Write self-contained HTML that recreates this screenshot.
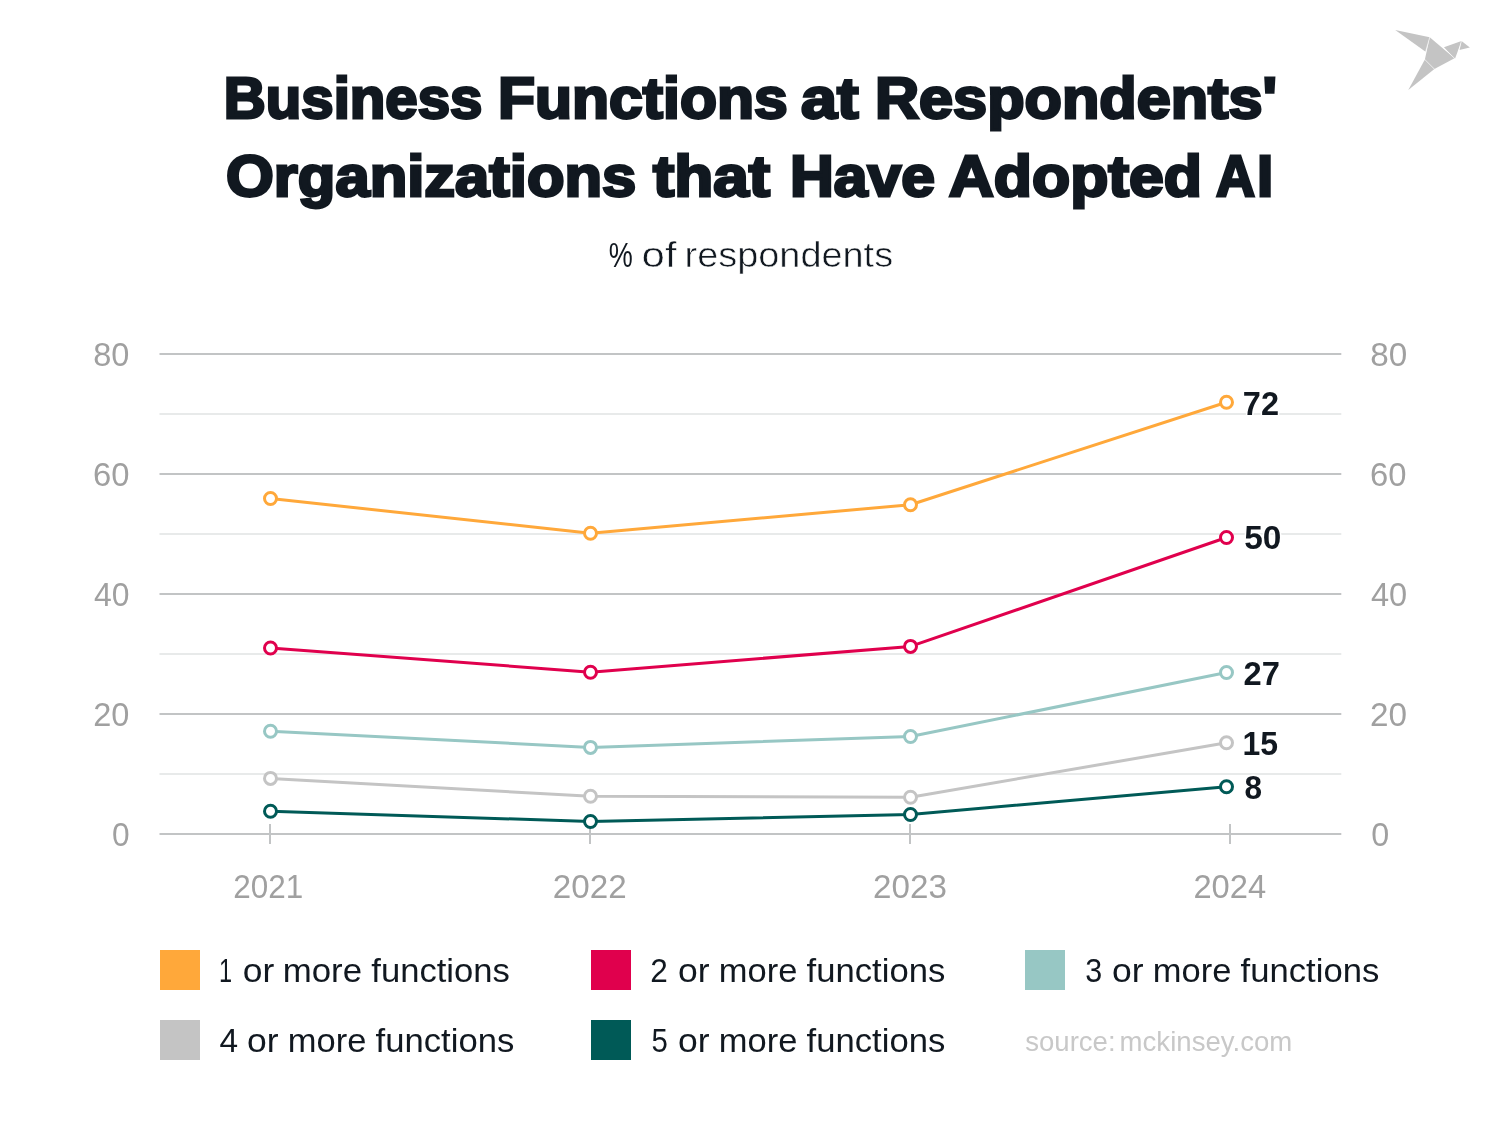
<!DOCTYPE html>
<html>
<head>
<meta charset="utf-8">
<title>Business Functions at Respondents' Organizations that Have Adopted AI</title>
<style>
html,body{margin:0;padding:0;background:#fff;}
body{width:1500px;height:1130px;position:relative;overflow:hidden;font-family:"Liberation Sans",sans-serif;}
svg{position:absolute;left:0;top:0;display:block;will-change:transform;}
text{font-family:"Liberation Sans",sans-serif;}
.title{font-weight:bold;font-size:57.7px;fill:#111820;stroke:#111820;stroke-width:2.8px;stroke-linejoin:miter;}
.sub{font-size:35px;fill:#111820;stroke:#ffffff;stroke-width:0.55px;}
.subp{font-size:35px;fill:#111820;}
.ax{font-size:33px;fill:#a0a0a0;}
.dl{font-size:33px;font-weight:bold;fill:#111820;stroke:#ffffff;stroke-width:3px;stroke-linejoin:round;paint-order:stroke fill;}
.lg{font-size:33px;fill:#111820;}
.src{font-size:28.5px;fill:#c8c8c8;}

</style>
</head>
<body>
<svg width="1500" height="1130" viewBox="0 0 1500 1130">
<rect x="0" y="0" width="1500" height="1130" fill="#ffffff"/>

<!-- logo -->
<g fill="#c4c4c4">
<polygon points="1395.2,30.1 1429.74,37.21 1425.6,51.8"/>
<polygon points="1429.74,37.21 1454.5,58.3 1434.41,68.96 1424.87,59.41"/>
<polygon points="1424.87,59.41 1434.41,68.96 1408.3,89.9"/>
<polygon points="1443.96,47.34 1461.5,41.0 1455.1,58.4 1453.6,57.6"/>
<polygon points="1461.5,41.0 1469.86,47.53 1459.4,49.95"/>
</g>
<g stroke="#ffffff" stroke-width="0.55" fill="none" stroke-linecap="butt">
<line x1="1429.9" y1="36.6" x2="1425.3" y2="52.6"/>
<line x1="1424.2" y1="58.9" x2="1434.6" y2="69.3"/>
<line x1="1443.6" y1="47.7" x2="1454.6" y2="58.4"/>
<line x1="1461.45" y1="40.6" x2="1459.0" y2="50.4"/>
</g>

<!-- grid -->
<g stroke="#e8eaea" stroke-width="2">
<line x1="159.5" x2="1341.3" y1="414" y2="414"/>
<line x1="159.5" x2="1341.3" y1="534" y2="534"/>
<line x1="159.5" x2="1341.3" y1="654" y2="654"/>
<line x1="159.5" x2="1341.3" y1="774" y2="774"/>
</g>
<g stroke="#c2c4c5" stroke-width="2">
<line x1="159.5" x2="1341.3" y1="354" y2="354"/>
<line x1="159.5" x2="1341.3" y1="474" y2="474"/>
<line x1="159.5" x2="1341.3" y1="594" y2="594"/>
<line x1="159.5" x2="1341.3" y1="714" y2="714"/>
<line x1="159.5" x2="1341.3" y1="834" y2="834"/>
<line x1="270" x2="270" y1="824" y2="844"/>
<line x1="590" x2="590" y1="824" y2="844"/>
<line x1="910" x2="910" y1="824" y2="844"/>
<line x1="1230" x2="1230" y1="824" y2="844"/>
</g>

<!-- series -->
<g fill="none" stroke-width="3" stroke-linejoin="round">
<polyline stroke="#ffa83a" points="270.5,498.5 590.5,533.3 910.5,504.7 1226.5,402.3"/>
<polyline stroke="#e0004d" points="270.5,648 590.5,672.2 910.5,646.4 1226.5,537.5"/>
<polyline stroke="#97c7c4" points="270.5,731.3 590.5,747.4 910.5,736.5 1226.5,672.5"/>
<polyline stroke="#c4c4c4" points="270.5,778.4 590.5,796.3 910.5,797.2 1226.5,742.8"/>
<polyline stroke="#005a57" points="270.5,811.3 590.5,821.5 910.5,814.5 1226.5,786.7"/>
</g>
<g fill="#ffffff" stroke-width="3">
<g stroke="#ffa83a"><circle cx="270.5" cy="498.5" r="6"/><circle cx="590.5" cy="533.3" r="6"/><circle cx="910.5" cy="504.7" r="6"/><circle cx="1226.5" cy="402.3" r="6"/></g>
<g stroke="#e0004d"><circle cx="270.5" cy="648" r="6"/><circle cx="590.5" cy="672.2" r="6"/><circle cx="910.5" cy="646.4" r="6"/><circle cx="1226.5" cy="537.5" r="6"/></g>
<g stroke="#97c7c4"><circle cx="270.5" cy="731.3" r="6"/><circle cx="590.5" cy="747.4" r="6"/><circle cx="910.5" cy="736.5" r="6"/><circle cx="1226.5" cy="672.5" r="6"/></g>
<g stroke="#c4c4c4"><circle cx="270.5" cy="778.4" r="6"/><circle cx="590.5" cy="796.3" r="6"/><circle cx="910.5" cy="797.2" r="6"/><circle cx="1226.5" cy="742.8" r="6"/></g>
<g stroke="#005a57"><circle cx="270.5" cy="811.3" r="6"/><circle cx="590.5" cy="821.5" r="6"/><circle cx="910.5" cy="814.5" r="6"/><circle cx="1226.5" cy="786.7" r="6"/></g>
</g>

<!-- legend swatches -->
<rect x="160" y="950" width="40" height="40" fill="#ffa83a"/>
<rect x="591" y="950" width="40" height="40" fill="#e0004d"/>
<rect x="1025" y="950" width="40" height="40" fill="#97c7c4"/>
<rect x="160" y="1020" width="40" height="40" fill="#c4c4c4"/>
<rect x="591" y="1020" width="40" height="40" fill="#005a57"/>

<!-- text -->
<text class="title" x="223.85" y="118.3" textLength="258.48" lengthAdjust="spacingAndGlyphs">Business</text>
<text class="title" x="498.00" y="118.3" textLength="289.70" lengthAdjust="spacingAndGlyphs">Functions</text>
<text class="title" x="800.95" y="118.3" textLength="57.54" lengthAdjust="spacingAndGlyphs">at</text>
<text class="title" x="874.90" y="118.3" textLength="402.15" lengthAdjust="spacingAndGlyphs">Respondents'</text>
<text class="title" x="226.00" y="196.3" textLength="410.35" lengthAdjust="spacingAndGlyphs">Organizations</text>
<text class="title" x="653.00" y="196.3" textLength="117.06" lengthAdjust="spacingAndGlyphs">that</text>
<text class="title" x="789.97" y="196.3" textLength="145.06" lengthAdjust="spacingAndGlyphs">Have</text>
<text class="title" x="948.73" y="196.3" textLength="253.27" lengthAdjust="spacingAndGlyphs">Adopted</text>
<text class="title" y="196.3"><tspan x="1216.00" textLength="39.07" lengthAdjust="spacingAndGlyphs">A</tspan><tspan x="1257.00" textLength="16.25" lengthAdjust="spacingAndGlyphs">I</tspan></text>
<text class="subp" x="608.80" y="266.6" textLength="24.02" lengthAdjust="spacingAndGlyphs">%</text>
<text class="sub" x="641.61" y="266.6" textLength="34.94" lengthAdjust="spacingAndGlyphs">of</text>
<text class="sub" x="684.54" y="266.6" textLength="208.57" lengthAdjust="spacingAndGlyphs">respondents</text>
<text class="ax" x="93.19" y="366" textLength="36.18" lengthAdjust="spacingAndGlyphs">80</text>
<text class="ax" x="1370.17" y="366" textLength="37.00" lengthAdjust="spacingAndGlyphs">80</text>
<text class="ax" x="93.06" y="486" textLength="36.48" lengthAdjust="spacingAndGlyphs">60</text>
<text class="ax" x="1370.03" y="486" textLength="36.52" lengthAdjust="spacingAndGlyphs">60</text>
<text class="ax" x="94.00" y="606" textLength="35.45" lengthAdjust="spacingAndGlyphs">40</text>
<text class="ax" x="1370.95" y="606" textLength="36.20" lengthAdjust="spacingAndGlyphs">40</text>
<text class="ax" x="93.17" y="726" textLength="36.18" lengthAdjust="spacingAndGlyphs">20</text>
<text class="ax" x="1370.06" y="726" textLength="37.03" lengthAdjust="spacingAndGlyphs">20</text>
<text class="ax" x="112.07" y="846" textLength="17.62" lengthAdjust="spacingAndGlyphs">0</text>
<text class="ax" x="1371.14" y="846" textLength="17.99" lengthAdjust="spacingAndGlyphs">0</text>
<text class="ax" x="233.36" y="898" textLength="69.95" lengthAdjust="spacingAndGlyphs">2021</text>
<text class="ax" x="552.86" y="898" textLength="73.87" lengthAdjust="spacingAndGlyphs">2022</text>
<text class="ax" x="873.09" y="898" textLength="73.77" lengthAdjust="spacingAndGlyphs">2023</text>
<text class="ax" x="1193.46" y="898" textLength="72.69" lengthAdjust="spacingAndGlyphs">2024</text>
<text class="dl" x="1242.85" y="414.7" textLength="36.16" lengthAdjust="spacingAndGlyphs">72</text>
<text class="dl" x="1244.18" y="549.2" textLength="37.14" lengthAdjust="spacingAndGlyphs">50</text>
<text class="dl" x="1243.61" y="684.7" textLength="36.37" lengthAdjust="spacingAndGlyphs">27</text>
<text class="dl" x="1242.54" y="754.8" textLength="35.56" lengthAdjust="spacingAndGlyphs">15</text>
<text class="dl" x="1244.54" y="799.0" textLength="17.53" lengthAdjust="spacingAndGlyphs">8</text>
<text class="lg" x="218.94" y="981.6" textLength="13.08" lengthAdjust="spacingAndGlyphs">1</text>
<text class="lg" x="242.83" y="981.6" textLength="31.51" lengthAdjust="spacingAndGlyphs">or</text>
<text class="lg" x="282.78" y="981.6" textLength="79.27" lengthAdjust="spacingAndGlyphs">more</text>
<text class="lg" x="371.28" y="981.6" textLength="138.60" lengthAdjust="spacingAndGlyphs">functions</text>
<text class="lg" x="219.48" y="1051.5" textLength="18.59" lengthAdjust="spacingAndGlyphs">4</text>
<text class="lg" x="247.03" y="1051.5" textLength="31.56" lengthAdjust="spacingAndGlyphs">or</text>
<text class="lg" x="287.85" y="1051.5" textLength="78.58" lengthAdjust="spacingAndGlyphs">more</text>
<text class="lg" x="375.64" y="1051.5" textLength="138.69" lengthAdjust="spacingAndGlyphs">functions</text>
<text class="lg" x="650.33" y="981.6" textLength="17.55" lengthAdjust="spacingAndGlyphs">2</text>
<text class="lg" x="678.03" y="981.6" textLength="31.56" lengthAdjust="spacingAndGlyphs">or</text>
<text class="lg" x="718.85" y="981.6" textLength="78.58" lengthAdjust="spacingAndGlyphs">more</text>
<text class="lg" x="806.64" y="981.6" textLength="138.69" lengthAdjust="spacingAndGlyphs">functions</text>
<text class="lg" x="651.53" y="1051.5" textLength="16.31" lengthAdjust="spacingAndGlyphs">5</text>
<text class="lg" x="678.03" y="1051.5" textLength="31.56" lengthAdjust="spacingAndGlyphs">or</text>
<text class="lg" x="718.85" y="1051.5" textLength="78.58" lengthAdjust="spacingAndGlyphs">more</text>
<text class="lg" x="806.64" y="1051.5" textLength="138.69" lengthAdjust="spacingAndGlyphs">functions</text>
<text class="lg" x="1085.14" y="981.6" textLength="16.94" lengthAdjust="spacingAndGlyphs">3</text>
<text class="lg" x="1112.03" y="981.6" textLength="31.56" lengthAdjust="spacingAndGlyphs">or</text>
<text class="lg" x="1152.85" y="981.6" textLength="78.58" lengthAdjust="spacingAndGlyphs">more</text>
<text class="lg" x="1240.64" y="981.6" textLength="138.69" lengthAdjust="spacingAndGlyphs">functions</text>
<text class="src" x="1025.27" y="1050.7" textLength="90.32" lengthAdjust="spacingAndGlyphs">source:</text>
<text class="src" x="1119.62" y="1050.7" textLength="172.65" lengthAdjust="spacingAndGlyphs">mckinsey.com</text>
</svg>
</body>
</html>
